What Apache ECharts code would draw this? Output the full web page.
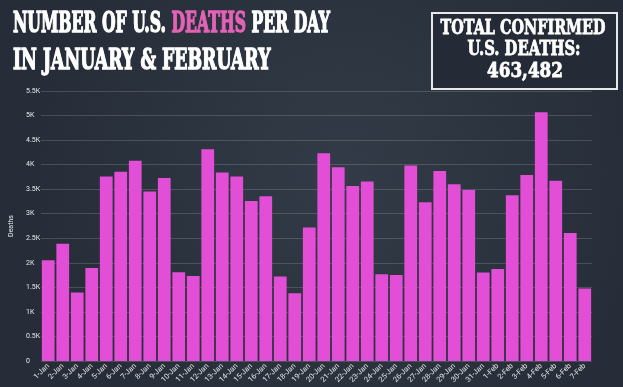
<!DOCTYPE html>
<html><head><meta charset="utf-8">
<script src="https://cdn.jsdelivr.net/npm/echarts@6/dist/echarts.min.js"></script>
<style>html,body{margin:0;padding:0;background:#2b333f;}#c{width:623px;height:387px;}</style>
</head><body><div id="c"></div>
<script>
const categories = ['1-Jan','2-Jan','3-Jan','4-Jan','5-Jan','6-Jan','7-Jan','8-Jan','9-Jan','10-Jan','11-Jan','12-Jan','13-Jan','14-Jan','15-Jan','16-Jan','17-Jan','18-Jan','19-Jan','20-Jan','21-Jan','22-Jan','23-Jan','24-Jan','25-Jan','26-Jan','27-Jan','28-Jan','29-Jan','30-Jan','31-Jan','1-Feb','2-Feb','3-Feb','4-Feb','5-Feb','6-Feb','7-Feb'];
const deaths = [2050,2390,1396,1896,3760,3855,4079,3455,3726,1809,1734,4315,3841,3760,3258,3354,1721,1382,2717,4234,3949,3563,3659,1768,1754,3984,3232,3868,3598,3482,1803,1876,3374,3787,5068,3673,2608,1477];
const yTickLabels = ['0','0.5K','1K','1.5K','2K','2.5K','3K','3.5K','4K','4.5K','5K','5.5K'];
const titleLine1 = ['NUMBER OF U.S. ', 'DEATHS', ' PER DAY'];
const titleLine2 = 'IN JANUARY & FEBRUARY';
const boxLines = ['TOTAL CONFIRMED', 'U.S. DEATHS:', '463,482'];

const chart = echarts.init(document.getElementById('c'), null, {renderer:'canvas'});
const headFont = 'DejaVu Serif';
const F = (s) => 'bold ' + s + 'px "' + headFont + '"';
chart.setOption({
  backgroundColor: {type: 'radial', x: 0.55, y: 0.45, r: 0.8,
    colorStops: [{offset: 0, color: '#323b47'}, {offset: 1, color: '#262d38'}]},
  animation: false,
  grid: {left: 41, right: 31, top: 91, bottom: 26},
  xAxis: {
    type: 'category', data: categories,
    axisLine: {show: false}, axisTick: {show: false},
    axisLabel: {rotate: 45, fontSize: 7.5, color: '#e4e4e4', margin: 4, interval: 0, fontFamily: 'Roboto'}
  },
  yAxis: {
    type: 'value', min: 0, max: 5500, interval: 500,
    name: 'Deaths', nameLocation: 'middle', nameGap: 24, nameRotate: 90,
    nameTextStyle: {color: '#e8e8e8', fontSize: 7, fontFamily: 'Roboto'},
    axisLabel: {align: 'left', margin: 15, fontSize: 7, color: '#e8e8e8', fontFamily: 'Roboto',
      formatter: (v) => yTickLabels[Math.round(v / 500)]},
    splitLine: {lineStyle: {color: 'rgba(255,255,255,0.16)', width: 1}}
  },
  series: [{
    type: 'bar', data: deaths, barCategoryGap: '12%',
    itemStyle: {color: '#e24ed6'}
  }],
  graphic: [
    {type: 'text', x: 13, y: 11, scaleX: 0.58,
      style: {text: '{w|' + titleLine1[0] + '}{p|' + titleLine1[1] + '}{w|' + titleLine1[2] + '}',
        rich: {w: {fill: '#ffffff', stroke: '#ffffff', lineWidth: 1.4, font: F(27)},
               p: {fill: '#e262b6', stroke: '#e262b6', lineWidth: 1.4, font: F(27)}}}},
    {type: 'text', x: 13, y: 48, scaleX: 0.64,
      style: {text: titleLine2, fill: '#ffffff', stroke: '#ffffff', lineWidth: 1.4, font: F(27)}},
    {type: 'rect', shape: {x: 432, y: 13, width: 185, height: 76},
      style: {fill: '#242b36', stroke: '#e8e8e8', lineWidth: 2}},
    {type: 'text', x: 523, y: 19, scaleX: 0.72,
      style: {text: boxLines[0], fill: '#ffffff', stroke: '#ffffff', lineWidth: 0.8, font: F(20), align: 'center'}},
    {type: 'text', x: 524, y: 40, scaleX: 0.74,
      style: {text: boxLines[1], fill: '#ffffff', stroke: '#ffffff', lineWidth: 0.8, font: F(20), align: 'center'}},
    {type: 'text', x: 525, y: 61, scaleX: 0.8,
      style: {text: boxLines[2], fill: '#ffffff', stroke: '#ffffff', lineWidth: 0.8, font: F(21), align: 'center'}}
  ]
});
</script></body></html>
